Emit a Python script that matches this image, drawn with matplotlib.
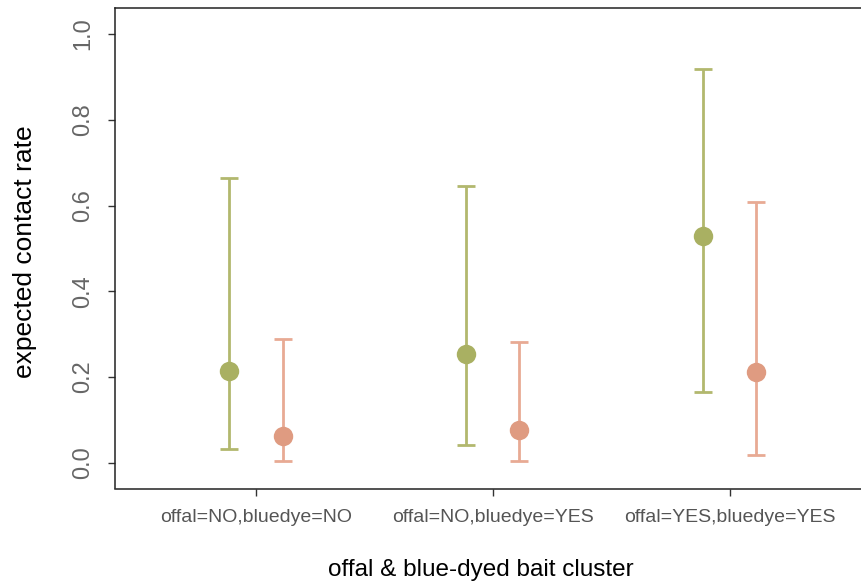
import numpy as np
import matplotlib.pyplot as plt

plt.rcParams['font.family'] = ['Liberation Sans', 'DejaVu Sans']

# categories and estimates
categories = ['offal=NO,bluedye=NO', 'offal=NO,bluedye=YES', 'offal=YES,bluedye=YES']

green_mid = [0.214, 0.253, 0.529]
green_low = [0.033, 0.042, 0.166]
green_high = [0.664, 0.645, 0.918]

salmon_mid = [0.063, 0.076, 0.211]
salmon_low = [0.004, 0.005, 0.017]
salmon_high = [0.289, 0.281, 0.608]

yticks = [0.0, 0.2, 0.4, 0.6, 0.8, 1.0]

#--------------------------------------------------------------------------------------------------------

fig = plt.figure(figsize=(8.62, 5.87), dpi=100)
# the box runs off the right edge in the reference
ax = fig.add_axes([115 / 862, 98.5 / 587, 757 / 862, 480.2 / 587])

x = np.arange(1, len(categories) + 1)
offset = 0.112


def draw_series(xpos, mid, low, high, line_col, dot_col):
    mid = np.array(mid)
    err = [mid - np.array(low), np.array(high) - mid]
    ax.errorbar(xpos, mid, yerr=err, fmt='none', ecolor=line_col,
                elinewidth=2.0, capsize=6.5, capthick=2.0, zorder=2)
    ax.plot(xpos, mid, 'o', color=dot_col, markersize=14, markeredgewidth=0, zorder=3)


draw_series(x - offset, green_mid, green_low, green_high, '#B2B86E', '#A9B062')
draw_series(x + offset, salmon_mid, salmon_low, salmon_high, '#E8AA94', '#DF9B81')

ax.set_xlim(0.405, 3.6)
ax.set_ylim(-0.060, 1.060)

ax.set_xticks(x)
ax.set_xticklabels(categories, fontsize=14, color='#555555')
ax.set_yticks(yticks)
ax.set_yticklabels([f'{v:.1f}' for v in yticks], fontsize=17, color='#666666',
                   rotation=90, va='center')

ax.tick_params(axis='y', length=5, width=1, pad=10, color='#333333')
ax.tick_params(axis='x', length=5, width=1, pad=10, color='#333333')

for side in ['left', 'bottom', 'top', 'right']:
    ax.spines[side].set_linewidth(1.1)
    ax.spines[side].set_color('#222222')

fig.text(25 / 862, 1 - 252 / 587, 'expected contact rate', rotation=90,
         fontsize=19, ha='center', va='center')
fig.text(481 / 862, 1 - 570 / 587, 'offal & blue-dyed bait cluster',
         fontsize=17.5, ha='center', va='center')

fig.savefig('out.png', dpi=100)
